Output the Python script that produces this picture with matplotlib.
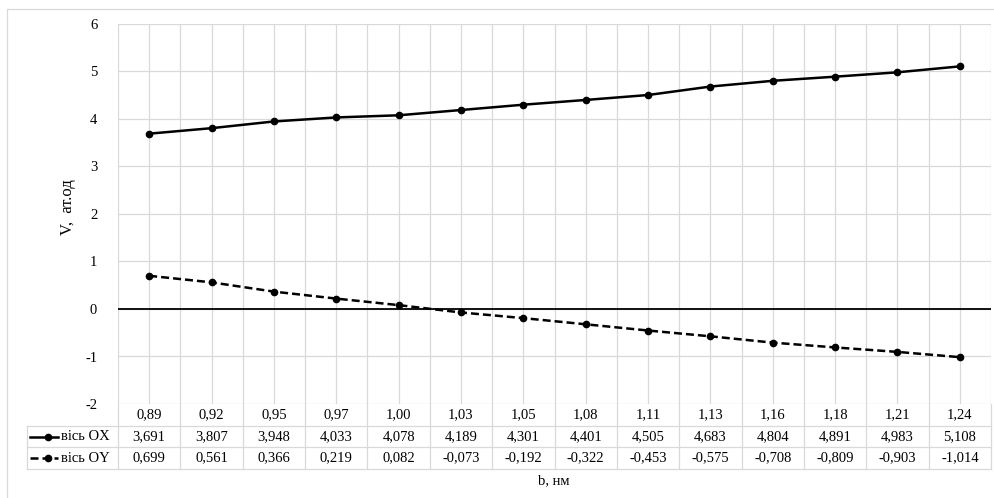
import matplotlib.pyplot as plt
import numpy as np
from matplotlib.transforms import blended_transform_factory

# товщина плівки b, нм та компоненти V по осях
b_nm = ['0,89', '0,92', '0,95', '0,97', '1,00', '1,03', '1,05',
        '1,08', '1,11', '1,13', '1,16', '1,18', '1,21', '1,24']
v_ox = [3.691, 3.807, 3.948, 4.033, 4.078, 4.189, 4.301,
        4.401, 4.505, 4.683, 4.804, 4.891, 4.983, 5.108]
v_oy = [0.699, 0.561, 0.366, 0.219, 0.082, -0.073, -0.192,
        -0.322, -0.453, -0.575, -0.708, -0.809, -0.903, -1.014]

plt.rcParams['font.family'] = ['Liberation Serif', 'DejaVu Serif']
plt.rcParams['axes.unicode_minus'] = False

W, H = 994, 498
GRID = '#d9d9d9'
fig = plt.figure(figsize=(W / 100, H / 100), dpi=100)

L, R, T, B = 118, 991, 24, 404
ax = fig.add_axes([L / W, 1 - B / H, (R - L) / W, (B - T) / H])
n = len(b_nm)
x = np.arange(n)

ax.plot(x, v_ox, color='black', lw=1.8, marker='o', markersize=4.5, zorder=3)
ax.plot(x, v_oy, color='black', lw=1.8, linestyle=(0, (3.2, 1.6)),
        marker='o', markersize=4.5, zorder=3)
ax.axhline(0, color='black', lw=1.3, zorder=2)

ax.set_xlim(-0.5, n - 0.5)
ax.set_ylim(-2, 6)
ax.set_yticks(range(-2, 7))
ax.set_xticks(np.arange(-0.5, n, 0.5))
ax.set_xticklabels([])
ax.tick_params(length=0, labelsize=10.5, pad=15)
ax.grid(True, color=GRID, lw=0.9)
for s in ax.spines.values():
    s.set_visible(False)

# накладка в пікселях для таблиці даних та підписів
ov = fig.add_axes([0, 0, 1, 1], zorder=-1)
ov.set_xlim(0, W)
ov.set_ylim(H, 0)
ov.axis('off')
tr = blended_transform_factory(ax.transData, ov.transData)

rows = [404, 425.5, 447, 469]
for y in rows[1:]:
    ov.plot([27, R], [y, y], color=GRID, lw=0.9)
ov.plot([27, 27], [rows[1], rows[3]], color=GRID, lw=0.9)
for i in range(n + 1):
    ov.plot([i - 0.5, i - 0.5], [rows[0], rows[3]], color=GRID, lw=0.9,
            transform=tr)

fs = 10.5
for i in range(n):
    ov.text(i, 415, b_nm[i], ha='center', va='center', fontsize=fs, transform=tr)
    ov.text(i, 436.5, f'{v_ox[i]:.3f}'.replace('.', ','), ha='center',
            va='center', fontsize=fs, transform=tr)
    ov.text(i, 458, f'{v_oy[i]:.3f}'.replace('.', ','), ha='center',
            va='center', fontsize=fs, transform=tr)

# ключі легенди у таблиці
ov.plot([30, 58], [436.5, 436.5], color='black', lw=1.8)
ov.plot([48], [436.5], 'o', color='black', markersize=4.5)
ov.plot([30, 58], [458, 458], color='black', lw=1.8, linestyle=(0, (3.2, 1.6)))
ov.plot([48], [458], 'o', color='black', markersize=4.5)
ov.text(61, 436.5, 'вісь OX', ha='left', va='center', fontsize=fs)
ov.text(61, 458, 'вісь OY', ha='left', va='center', fontsize=fs)

ov.text(68, 207, 'V,  ат.од', rotation=90, ha='center', va='center', fontsize=12)
ov.text(554, 481, 'b, нм', ha='center', va='center', fontsize=10.5)

# рамка області діаграми
ov.plot([7, 7, W + 5], [H + 5, 9, 9], color=GRID, lw=0.9)

fig.savefig('out.png', dpi=100)
